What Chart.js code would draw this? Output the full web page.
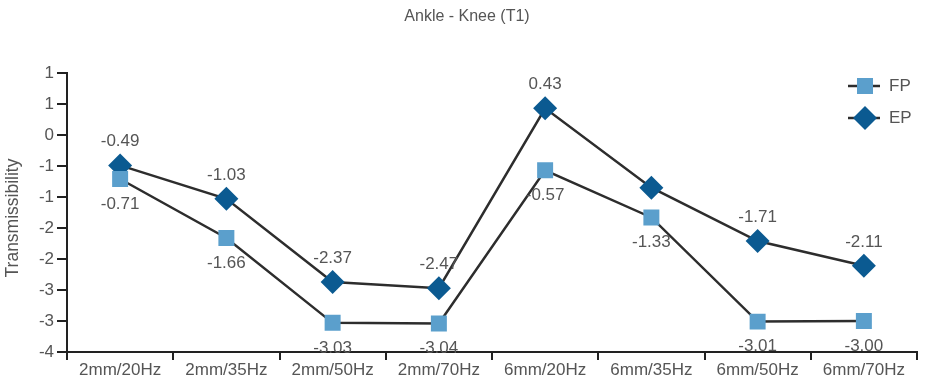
<!DOCTYPE html>
<html>
<head>
<meta charset="utf-8">
<script src="https://cdn.jsdelivr.net/npm/chart.js@4"></script>
<style>
  html, body { margin: 0; padding: 0; background: #fff; }
  #wrap { width: 935px; height: 381px; }
</style>
</head>
<body>
<div id="wrap"><canvas id="myChart" width="935" height="381"></canvas></div>
<script>
const categories = ["2mm/20Hz", "2mm/35Hz", "2mm/50Hz", "2mm/70Hz", "6mm/20Hz", "6mm/35Hz", "6mm/50Hz", "6mm/70Hz"];
const fpValues = [-0.71, -1.66, -3.03, -3.04, -0.57, -1.33, -3.01, -3.00];
const epValues = [-0.49, -1.03, -2.37, -2.47, 0.43, -0.85, -1.71, -2.11];
// labels printed next to points (EP at 6mm/35Hz has none in the source)
const fpLabels = ["-0.71", "-1.66", "-3.03", "-3.04", "-0.57", "-1.33", "-3.01", "-3.00"];
const epLabels = ["-0.49", "-1.03", "-2.37", "-2.47", "0.43", "", "-1.71", "-2.11"];
const yMin = -3.5, yMax = 1, yStep = 0.5;

const FONT = "'Liberation Sans', Arial, sans-serif";
const TEXT = "#555";
const LINE = "#2d2d2d";
const FP_COLOR = "#5b9fcc";
const EP_COLOR = "#0b5a91";

// rounds like the original axis format ("0"), half away from zero
const roundLabel = (v) => {
  const r = Math.sign(v) * Math.round(Math.abs(v) + 1e-9);
  return r === 0 ? "0" : String(r);
};

const extrasPlugin = {
  id: "extras",
  afterDatasetsDraw(chart) {
    const ctx = chart.ctx;
    ctx.save();
    ctx.fillStyle = TEXT;
    ctx.font = "17px " + FONT;
    ctx.textAlign = "center";
    ctx.textBaseline = "middle";
    const fpMeta = chart.getDatasetMeta(0);
    const epMeta = chart.getDatasetMeta(1);
    fpMeta.data.forEach((pt, i) => {
      if (fpLabels[i]) ctx.fillText(fpLabels[i], pt.x, pt.y + 25);
    });
    epMeta.data.forEach((pt, i) => {
      if (epLabels[i]) ctx.fillText(epLabels[i], pt.x, pt.y - 24);
    });

    // title
    ctx.font = "16px " + FONT;
    ctx.fillText("Ankle - Knee (T1)", 467, 17);

    // legend
    const items = [
      { label: "FP", color: FP_COLOR, style: "rect", y: 86 },
      { label: "EP", color: EP_COLOR, style: "rectRot", y: 118 },
    ];
    ctx.font = "17px " + FONT;
    items.forEach((it) => {
      ctx.strokeStyle = LINE;
      ctx.lineWidth = 2.5;
      ctx.beginPath();
      ctx.moveTo(848, it.y);
      ctx.lineTo(880, it.y);
      ctx.stroke();
      ctx.fillStyle = it.color;
      ctx.beginPath();
      if (it.style === "rect") {
        ctx.rect(857, it.y - 8, 16, 16);
      } else {
        ctx.moveTo(865, it.y - 12);
        ctx.lineTo(877, it.y);
        ctx.lineTo(865, it.y + 12);
        ctx.lineTo(853, it.y);
        ctx.closePath();
      }
      ctx.fill();
      ctx.fillStyle = TEXT;
      ctx.textAlign = "left";
      ctx.fillText(it.label, 889, it.y);
    });

    // y axis title
    ctx.translate(13, 218);
    ctx.rotate(-Math.PI / 2);
    ctx.textAlign = "center";
    ctx.font = "17.5px " + FONT;
    ctx.fillText("Transmissibility", 0, 0);
    ctx.restore();
  },
};

const ctx = document.getElementById("myChart").getContext("2d");
const chart = new Chart(ctx, {
  type: "line",
  data: {
    labels: categories,
    datasets: [
      {
        label: "FP",
        data: fpValues,
        borderColor: LINE,
        borderWidth: 2.5,
        backgroundColor: FP_COLOR,
        pointBackgroundColor: FP_COLOR,
        pointBorderColor: FP_COLOR,
        pointStyle: "rect",
        pointRadius: 11.3,
        pointBorderWidth: 0,
        tension: 0,
      },
      {
        label: "EP",
        data: epValues,
        borderColor: LINE,
        borderWidth: 2.5,
        backgroundColor: EP_COLOR,
        pointBackgroundColor: EP_COLOR,
        pointBorderColor: EP_COLOR,
        pointStyle: "rectRot",
        pointRadius: 12,
        pointBorderWidth: 0,
        tension: 0,
      },
    ],
  },
  options: {
    responsive: false,
    animation: false,
    layout: { padding: { top: 73, right: 18, left: 0, bottom: 0 } },
    plugins: {
      legend: { display: false },
      title: { display: false },
      tooltip: { enabled: false },
    },
    scales: {
      x: {
        offset: true,
        grid: {
          offset: true,
          drawOnChartArea: false,
          drawTicks: true,
          tickLength: 8,
          color: "#222",
          lineWidth: 2,
        },
        border: { display: true, color: "#222", width: 2 },
        ticks: {
          color: TEXT,
          font: { family: FONT, size: 17 },
          maxRotation: 0,
          padding: 0,
        },
        afterFit(scale) {
          scale.height = 29;
        },
      },
      y: {
        min: yMin,
        max: yMax,
        grid: {
          drawOnChartArea: false,
          drawTicks: true,
          tickLength: 10,
          color: "#222",
          lineWidth: 2,
        },
        border: { display: true, color: "#222", width: 2 },
        ticks: {
          stepSize: yStep,
          color: TEXT,
          font: { family: FONT, size: 17 },
          padding: 3,
          callback: (v) => roundLabel(v),
        },
        afterFit(scale) {
          scale.width = 67;
        },
      },
    },
  },
  plugins: [extrasPlugin],
});
</script>
</body>
</html>
